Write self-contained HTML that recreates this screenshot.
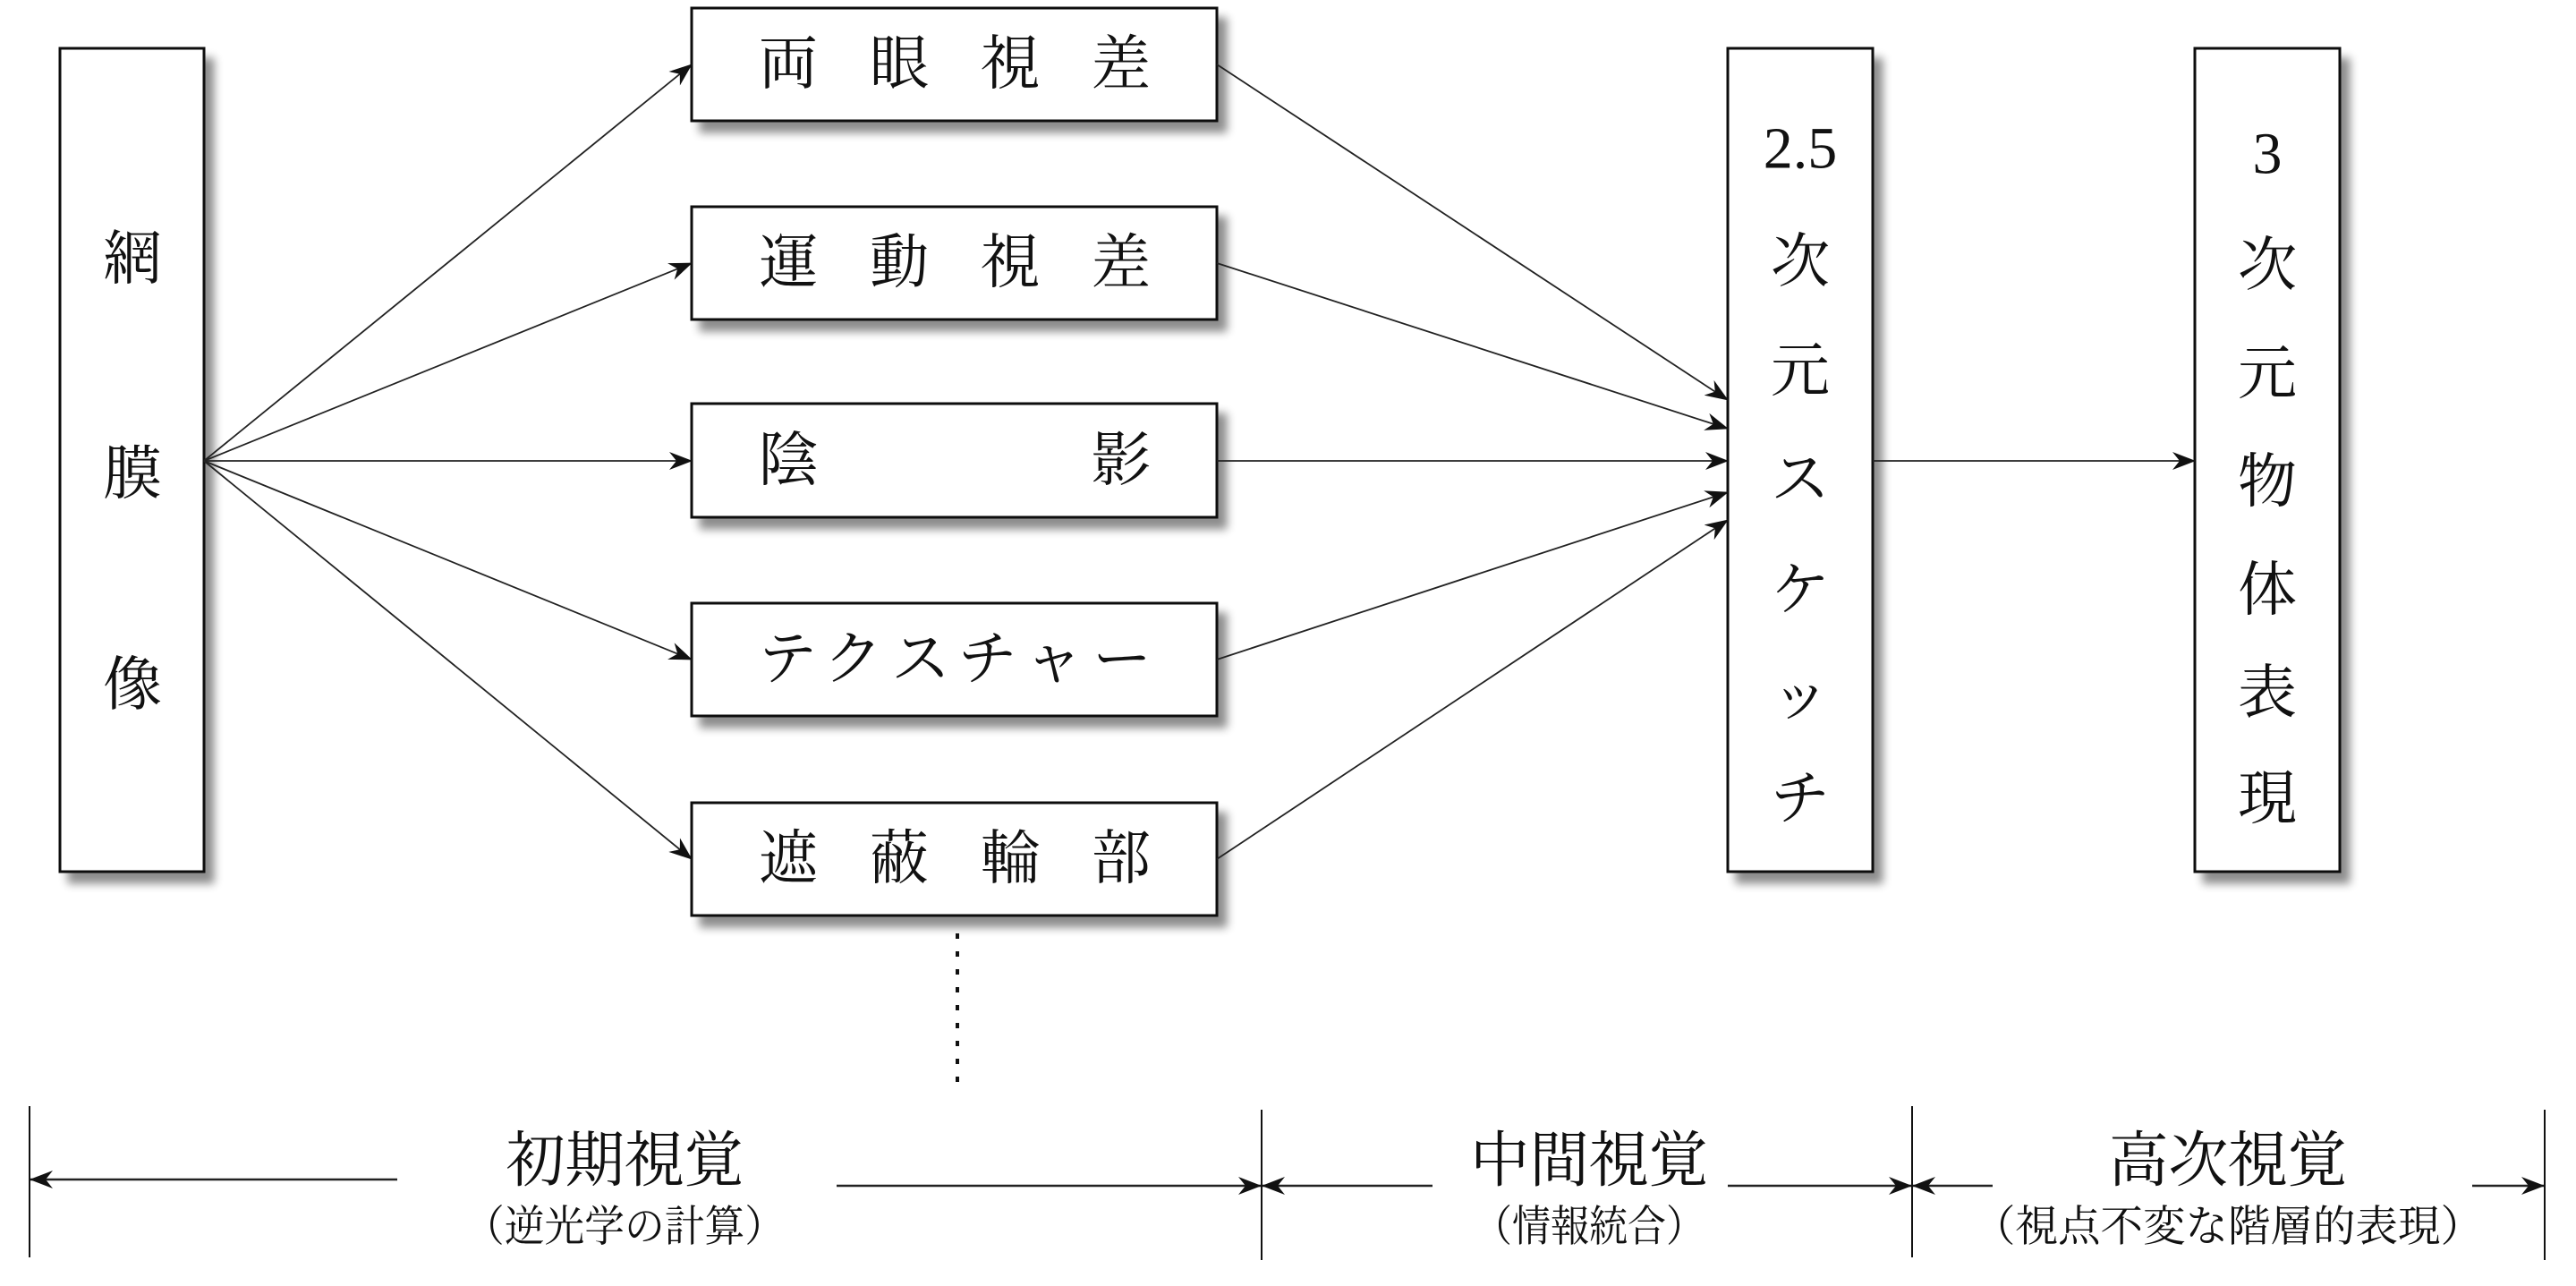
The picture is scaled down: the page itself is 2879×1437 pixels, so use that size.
<!DOCTYPE html>
<html><head><meta charset="utf-8"><style>
html,body{margin:0;padding:0;background:#fff;}
body{width:2879px;height:1437px;overflow:hidden;position:relative;}
svg{position:absolute;left:0;top:0;}
text{font-family:"Liberation Serif","Noto Serif CJK JP","Noto Serif CJK SC",serif;fill:#111;}
</style></head><body>
<svg width="2879" height="1437" viewBox="0 0 2879 1437">
<defs>
<marker id="ah" viewBox="0 0 26 20" refX="25" refY="10" markerWidth="26" markerHeight="20" markerUnits="userSpaceOnUse" orient="auto">
<path d="M0,0 L26,10 L0,20 L8,10 Z" fill="#111"/>
</marker>
<filter id="sh" x="-10%" y="-10%" width="130%" height="130%">
<feGaussianBlur in="SourceAlpha" stdDeviation="5"/>
<feOffset dx="10" dy="12"/>
<feComponentTransfer><feFuncA type="linear" slope="0.45"/></feComponentTransfer>
<feMerge><feMergeNode/><feMergeNode in="SourceGraphic"/></feMerge>
</filter>
</defs>

<g fill="#fff" stroke="#111" stroke-width="3" filter="url(#sh)">
<rect x="67" y="54" width="161" height="920"/>
<rect x="773" y="9" width="587" height="126"/>
<rect x="773" y="231" width="587" height="126"/>
<rect x="773" y="451" width="587" height="127"/>
<rect x="773" y="674" width="587" height="126"/>
<rect x="773" y="897" width="587" height="126"/>
<rect x="1931" y="54" width="162" height="920"/>
<rect x="2453" y="54" width="162" height="920"/>
</g>

<g stroke="#222" stroke-width="1.8" fill="none" marker-end="url(#ah)">
<line x1="228" y1="515" x2="773" y2="72"/>
<line x1="228" y1="515" x2="773" y2="294"/>
<line x1="228" y1="515" x2="773" y2="515"/>
<line x1="228" y1="515" x2="773" y2="737"/>
<line x1="228" y1="515" x2="773" y2="960"/>
<line x1="1360" y1="72" x2="1931" y2="447"/>
<line x1="1360" y1="294" x2="1931" y2="479"/>
<line x1="1360" y1="515" x2="1931" y2="515"/>
<line x1="1360" y1="737" x2="1931" y2="550"/>
<line x1="1360" y1="960" x2="1931" y2="581"/>
<line x1="2093" y1="515" x2="2453" y2="515"/>
</g>

<line x1="1070" y1="1043" x2="1070" y2="1214" stroke="#111" stroke-width="4" stroke-dasharray="6 14"/>

<g stroke="#111" stroke-width="2">
<line x1="33" y1="1236" x2="33" y2="1405"/>
<line x1="1410" y1="1240" x2="1410" y2="1408"/>
<line x1="2137" y1="1236" x2="2137" y2="1405"/>
<line x1="2844" y1="1240" x2="2844" y2="1408"/>
</g>
<g stroke="#222" stroke-width="2.5" fill="none" marker-end="url(#ah)">
<line x1="444" y1="1318" x2="34" y2="1318"/>
<line x1="935" y1="1325" x2="1409" y2="1325"/>
<line x1="1601" y1="1325" x2="1411" y2="1325"/>
<line x1="1931" y1="1325" x2="2136" y2="1325"/>
<line x1="2227" y1="1325" x2="2138" y2="1325"/>
<line x1="2763" y1="1325" x2="2843" y2="1325"/>
</g>

<g font-size="66" text-anchor="middle" dominant-baseline="central">
<text x="148" y="290">網</text><text x="148" y="530">膜</text><text x="148" y="766">像</text>

<text x="881" y="72">両</text><text x="1005" y="72">眼</text><text x="1129" y="72">視</text><text x="1253" y="72">差</text>
<text x="881" y="294">運</text><text x="1005" y="294">動</text><text x="1129" y="294">視</text><text x="1253" y="294">差</text>
<text x="881" y="515">陰</text><text x="1253" y="515">影</text>
<text x="1067" y="737" textLength="440" lengthAdjust="spacing">テクスチャー</text>
<text x="881" y="960">遮</text><text x="1005" y="960">蔽</text><text x="1129" y="960">輪</text><text x="1253" y="960">部</text>

<text x="2012" y="166">2.5</text><text x="2012" y="293">次</text><text x="2012" y="415">元</text><text x="2012" y="536">ス</text><text x="2012" y="660">ケ</text><text x="2012" y="778">ッ</text><text x="2012" y="893">チ</text>
<text x="2534" y="172">3</text><text x="2534" y="297">次</text><text x="2534" y="418">元</text><text x="2534" y="539">物</text><text x="2534" y="660">体</text><text x="2534" y="775">表</text><text x="2534" y="893">現</text>
</g>

<g text-anchor="middle" dominant-baseline="central">
<text x="698" y="1297" font-size="68" textLength="266" lengthAdjust="spacingAndGlyphs">初期視覚</text>
<text x="698" y="1371" font-size="48" textLength="358" lengthAdjust="spacingAndGlyphs">（逆光学の計算）</text>
<text x="1776" y="1297" font-size="68" textLength="266" lengthAdjust="spacingAndGlyphs">中間視覚</text>
<text x="1776" y="1371" font-size="48" textLength="258" lengthAdjust="spacingAndGlyphs">（情報統合）</text>
<text x="2490" y="1297" font-size="68" textLength="266" lengthAdjust="spacingAndGlyphs">高次視覚</text>
<text x="2490" y="1371" font-size="48" textLength="570" lengthAdjust="spacingAndGlyphs">（視点不変な階層的表現）</text>
</g>
</svg>
</body></html>
